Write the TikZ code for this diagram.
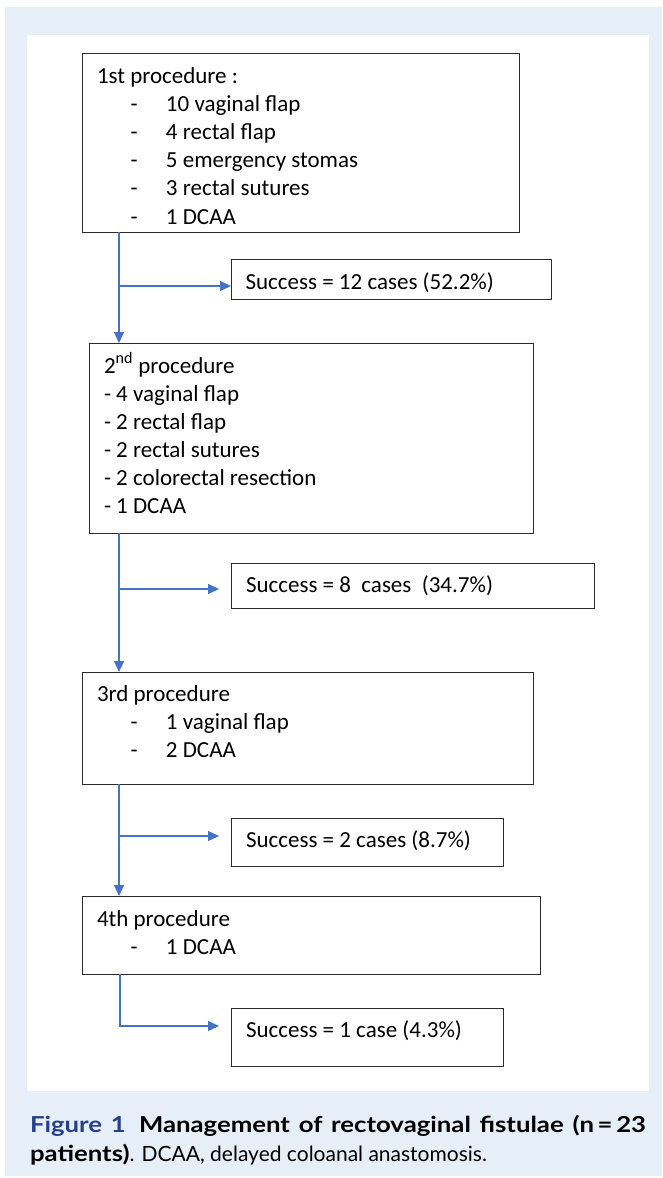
\documentclass[tikz,border=0pt]{standalone}
\usepackage{fontspec}
\setmainfont{Carlito}
\newfontfamily\capfont{Lato}
\newfontfamily\capwide[FakeStretch=1.17]{Lato}
\usetikzlibrary{arrows.meta}
\definecolor{panelblue}{HTML}{E6EEF8}
\definecolor{connblue}{HTML}{4472C4}
\definecolor{figblue}{HTML}{24408E}
\definecolor{boxline}{HTML}{2B2B2B}
\tikzset{
  box/.style={draw=boxline, line width=1pt, inner sep=0pt, outer sep=0pt, anchor=north west, fill=white},
  txt/.style={inner sep=0pt, outer sep=0pt, anchor=base west, align=left, font=\fontsize{23}{28}\selectfont},
  conn/.style={draw=connblue, line width=1.1pt},
  arr/.style={conn, -{Triangle[length=11pt, width=10pt]}}
}
\newcommand{\itm}[1]{\hspace*{33.5pt}\makebox[35.5pt][l]{-}#1}
\begin{document}
\begin{tikzpicture}[x=1pt, y=-1pt]
\useasboundingbox (0,0) rectangle (662,1178);
\fill[panelblue] (5,7) rectangle (662,1176);
\fill[white] (27,35) rectangle (649,1091);

% boxes
\node[box, minimum width=437pt, minimum height=179pt] (b1) at (82,53) {};
\node[box, minimum width=320pt, minimum height=40pt] (s1) at (231,259) {};
\node[box, minimum width=444pt, minimum height=190pt] (b2) at (89,343) {};
\node[box, minimum width=363pt, minimum height=45pt] (s2) at (231,563) {};
\node[box, minimum width=451pt, minimum height=112pt] (b3) at (82,672) {};
\node[box, minimum width=272pt, minimum height=48pt] (s3) at (231,818) {};
\node[box, minimum width=458pt, minimum height=78pt] (b4) at (82,896) {};
\node[box, minimum width=272pt, minimum height=58pt] (s4) at (231,1008) {};

% texts (anchored at the baseline of their last line)
\node[txt, font=\fontsize{23}{28.2}\selectfont] (t1) at (97,224) {1st procedure :\\ \itm{10 vaginal flap}\\ \itm{4 rectal flap}\\ \itm{5 emergency stomas}\\ \itm{3 rectal sutures}\\ \itm{1 DCAA}};
\node[txt] (ts1) at (245.6,289) {Success = 12 cases (52.2\%)};
\node[txt] (t2) at (104,513) {2\textsuperscript{nd} procedure\\ - 4 vaginal flap\\ - 2 rectal flap\\ - 2 rectal sutures\\ - 2 colorectal resection\\ - 1 DCAA};
\node[txt] (ts2) at (246,592) {Success = 8\ \ cases\ \ (34.7\%)};
\node[txt] (t3) at (97,757) {3rd procedure\\ \itm{1 vaginal flap}\\ \itm{2 DCAA}};
\node[txt] (ts3) at (246,847) {Success = 2 cases (8.7\%)};
\node[txt] (t4) at (97,954) {4th procedure\\ \itm{1 DCAA}};
\node[txt] (ts4) at (246,1037) {Success = 1 case (4.3\%)};

% connectors
\coordinate (spine) at (119,0);
\coordinate (j1) at (119,286);
\coordinate (j2) at (119,589);
\coordinate (j3) at (119,836);
\coordinate (j4) at (120,1026);
\draw[arr] (b1.south -| spine) -- (b2.north -| spine);
\draw[arr] (j1) -- (j1 -| s1.west);
\draw[arr] (b2.south -| spine) -- (b3.north -| spine);
\draw[arr, shorten >=12pt] (j2) -- (j2 -| s2.west);
\draw[arr] (b3.south -| spine) -- (b4.north -| spine);
\draw[arr, shorten >=12pt] (j3) -- (j3 -| s3.west);
\draw[arr, shorten >=12pt] (b4.south -| j4) -- (j4) -- (j4 -| s4.west);

% caption (text width node: anchored at the baseline of its first line)
\node[inner sep=0pt, outer sep=0pt, anchor=base west, text width=616pt, align=justify,
      font=\capfont\fontsize{21}{29}\selectfont] (cap) at (30,1132)
  {{\capwide\bfseries\fontsize{22}{29}\selectfont{\color{figblue}Figure 1}\hspace{0.6em}Management of rectovaginal fistulae (n\,=\,23\linebreak patients)}. DCAA, delayed coloanal anastomosis.};
\end{tikzpicture}
\end{document}
